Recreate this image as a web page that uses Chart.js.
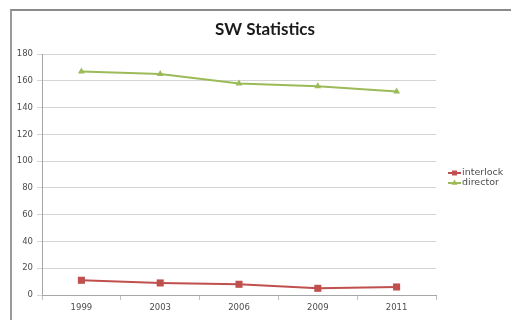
<!DOCTYPE html>
<html>
<head>
<meta charset="utf-8">
<script src="https://cdn.jsdelivr.net/npm/chart.js@4/dist/chart.umd.min.js"></script>
<style>
  html, body { margin: 0; padding: 0; background: #fff; overflow: hidden; }
  #wrap { position: relative; width: 511px; height: 320px; overflow: hidden; }
  #frame { position: absolute; left: 10px; top: 9px; width: 800px; height: 600px;
           border-left: 2px solid #9a9a9a; border-top: 2px solid #8a8a8a; }
  canvas { position: absolute; left: 0; top: 0; }
</style>
</head>
<body>
<div id="wrap">
  <div id="frame"></div>
  <canvas id="c" width="511" height="320"></canvas>
</div>
<script>
// Survey years and counts per series
const years = ['1999', '2003', '2006', '2009', '2011'];
const interlock = [11, 9, 8, 5, 6];
const director = [167, 165, 158, 156, 152];
const yTicks = [0, 20, 40, 60, 80, 100, 120, 140, 160, 180];

const RED = '#c0504d';
const GREEN = '#9bbb59';
const TEXT = '#4d4d4d';
const FONT = 'DejaVu Sans, Liberation Sans, sans-serif';

// Title centred over the framed area
const titlePlugin = {
  id: 'frameTitle',
  afterDraw(chart) {
    const ctx = chart.ctx;
    ctx.save();
    ctx.fillStyle = '#1a1a1a';
    ctx.font = 'bold 17px Lato, "Liberation Sans", sans-serif';
    ctx.textAlign = 'center';
    ctx.textBaseline = 'middle';
    ctx.fillText('SW Statistics', 265, 30);
    ctx.restore();
  }
};

// Legend on the right: short line with the series marker, then its name
const sideLegend = {
  id: 'sideLegend',
  afterDraw(chart) {
    const ctx = chart.ctx;
    const items = chart.data.datasets.map((ds, i) => ({ ds, y: 173 + i * 10 }));
    ctx.save();
    items.forEach(({ ds, y }) => {
      ctx.strokeStyle = ds.borderColor;
      ctx.lineWidth = 2;
      ctx.beginPath();
      ctx.moveTo(448, y);
      ctx.lineTo(461, y);
      ctx.stroke();
      ctx.fillStyle = ds.borderColor;
      Chart.helpers.drawPoint(ctx, { pointStyle: ds.pointStyle, radius: 3.5, borderWidth: 0 }, 454.5, y);
      ctx.fillStyle = TEXT;
      ctx.font = '9.5px ' + FONT;
      ctx.textAlign = 'left';
      ctx.textBaseline = 'middle';
      ctx.fillText(ds.label, 462, y);
    });
    ctx.restore();
  }
};

new Chart(document.getElementById('c'), {
  type: 'line',
  data: {
    labels: years,
    datasets: [
      {
        label: 'interlock',
        data: interlock,
        borderColor: RED,
        backgroundColor: RED,
        borderWidth: 2,
        pointStyle: 'rect',
        pointRadius: 5,
        pointBorderWidth: 0,
        tension: 0
      },
      {
        label: 'director',
        data: director,
        borderColor: GREEN,
        backgroundColor: GREEN,
        borderWidth: 2,
        pointStyle: 'triangle',
        pointRadius: 4,
        pointBorderWidth: 0,
        tension: 0
      }
    ]
  },
  options: {
    responsive: false,
    animation: false,
    layout: { padding: { left: 0, right: 75, top: 54, bottom: 0 } },
    plugins: {
      legend: { display: false },
      title: { display: false },
      tooltip: { enabled: false }
    },
    scales: {
      x: {
        offset: true,
        grid: { offset: true, drawOnChartArea: false, drawTicks: true, tickLength: 5, color: '#bfbfbf' },
        border: { color: '#a6a6a6' },
        ticks: { color: TEXT, font: { family: FONT, size: 8.5 }, padding: 3, maxRotation: 0 },
        afterFit(scale) { scale.height = 25; }
      },
      y: {
        min: 0,
        max: 180,
        afterBuildTicks(scale) { scale.ticks = yTicks.map(v => ({ value: v })); },
        grid: { color: '#d4d4d4', drawTicks: true, tickLength: 5 },
        border: { color: '#a6a6a6' },
        ticks: { color: TEXT, font: { family: FONT, size: 8.5 }, padding: 4 },
        afterFit(scale) { scale.width = 42; }
      }
    }
  },
  plugins: [titlePlugin, sideLegend]
});
</script>
</body>
</html>
